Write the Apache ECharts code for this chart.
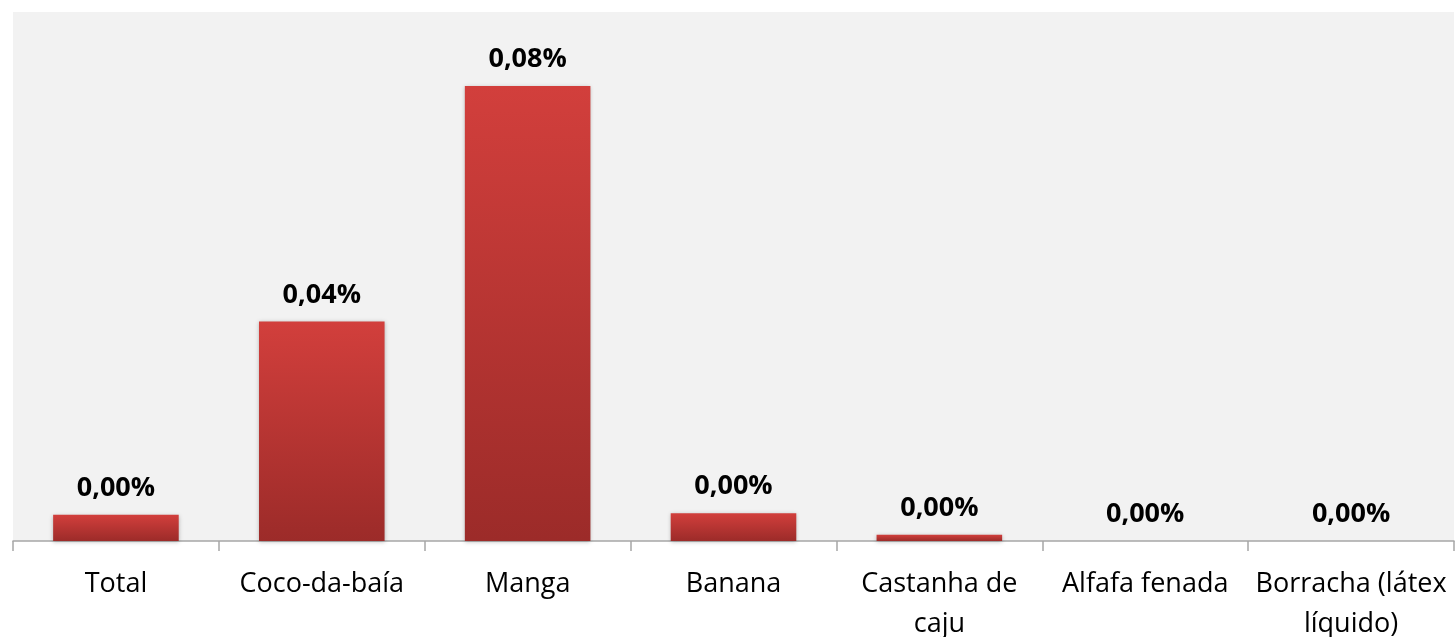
<!DOCTYPE html>
<html>
<head>
<meta charset="utf-8">
<script src="https://cdn.jsdelivr.net/npm/echarts@6/dist/echarts.min.js"></script>
<style>
  html, body { margin: 0; padding: 0; background: #fff; }
  #chart { width: 1456px; height: 637px; }
</style>
</head>
<body>
<div id="chart"></div>
<script>
// categories and values (percent)
var categories = ['Total', 'Coco-da-baía', 'Manga', 'Banana', 'Castanha de\ncaju', 'Alfafa fenada', 'Borracha (látex\nlíquido)'];
var values = [0.0046, 0.0386, 0.08, 0.0049, 0.0011, 0, 0];

var chart = echarts.init(document.getElementById('chart'));

var option = {
    animation: false,
    grid: {
        left: 13, right: 2, top: 12, bottom: 96,
        outerBoundsMode: 'none',
        containLabel: false,
        show: true,
        backgroundColor: '#f2f2f2',
        borderWidth: 0
    },
    xAxis: {
        type: 'category',
        data: categories,
        axisLine: { show: true, lineStyle: { color: '#a6a6a6', width: 1.5 } },
        axisTick: { show: true, length: 10, lineStyle: { color: '#a6a6a6', width: 1.5 } },
        axisLabel: {
            color: '#000',
            fontFamily: 'Open Sans',
            fontSize: 27,
            lineHeight: 40,
            margin: 23,
            interval: 0
        }
    },
    yAxis: {
        type: 'value',
        min: 0,
        max: 0.093,
        show: false,
        splitLine: { show: false }
    },
    series: [{
        type: 'bar',
        data: values,
        barWidth: '61%',
        itemStyle: {
            color: new echarts.graphic.LinearGradient(0, 0, 0, 1, [
                { offset: 0, color: '#d23f3c' },
                { offset: 1, color: '#9c2b29' }
            ]),
            shadowColor: 'rgba(0,0,0,0.25)',
            shadowBlur: 4,
            shadowOffsetY: 1
        },
        label: {
            show: true,
            position: 'top',
            distance: 13,
            color: '#000',
            fontFamily: 'Open Sans',
            fontWeight: 'bold',
            fontSize: 27,
            formatter: function (p) {
                return p.value.toFixed(2).replace('.', ',') + '%';
            }
        }
    }]
};

chart.setOption(option);
</script>
</body>
</html>
